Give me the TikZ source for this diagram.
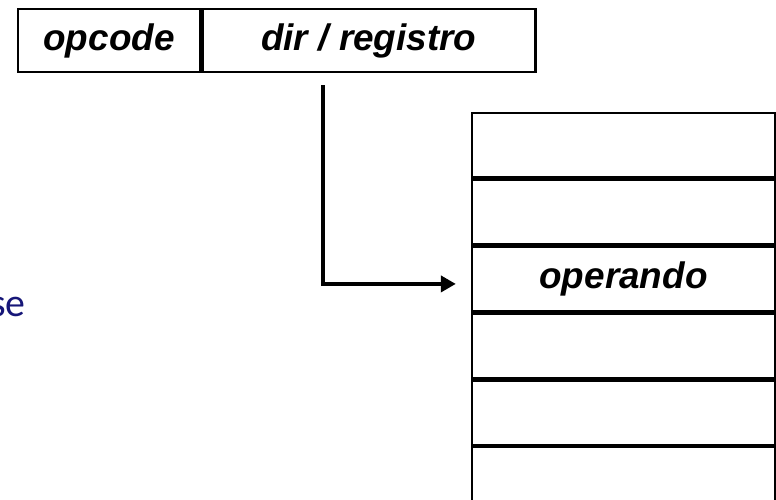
\documentclass[tikz,border=0pt]{standalone}
\usepackage{fontspec}
\setmainfont{Liberation Sans}
\newfontfamily\slidefont{Carlito}
\usetikzlibrary{positioning,arrows.meta}
\tikzset{>={Triangle[length=4.5mm,width=4.8mm]}}
\definecolor{slideblue}{RGB}{22,22,120}
\tikzset{
  field/.style={draw, line width=2pt, minimum height=1.89cm, inner sep=0pt,
    font=\fontsize{31.5}{38}\selectfont\bfseries\itshape},
  cell/.style={draw, line width=2pt, minimum width=9.09cm, minimum height=1.935cm,
    inner sep=0pt, font=\fontsize{31.5}{38}\selectfont\bfseries\itshape}
}

\begin{document}
\begin{tikzpicture}
    \useasboundingbox (0,0) rectangle (23.28,14.97);

    % instruction word on top
    \node[field, minimum width=5.46cm] (opcode) at (3.27,13.755) {opcode};
    \node[field, minimum width=9.99cm, right=0pt of opcode] (dirreg) {dir / registro};

    % memory column on the right
    \node[cell] (cell1) at (18.705,10.6125) {};
    \node[cell, below=0pt of cell1] (cell2) {};
    \node[cell, below=0pt of cell2] (cell3) {operando};
    \foreach \i [count=\j from 3] in {4,5,6}
        \node[cell, below=0pt of cell\j] (cell\i) {};

    % pointer from the address field to the operand
    \draw[->, line width=3.2pt, shorten >=0.45cm]
        ([xshift=-1.365cm, yshift=-0.36cm]dirreg.south) |- ([yshift=-0.15cm]cell3.west);

    % cut-off text at the left edge
    \node[anchor=base east, inner sep=0pt, text=slideblue,
        font=\slidefont\fontsize{34}{41}\selectfont] (word) at (0.78,5.46) {se};
\end{tikzpicture}
\end{document}
